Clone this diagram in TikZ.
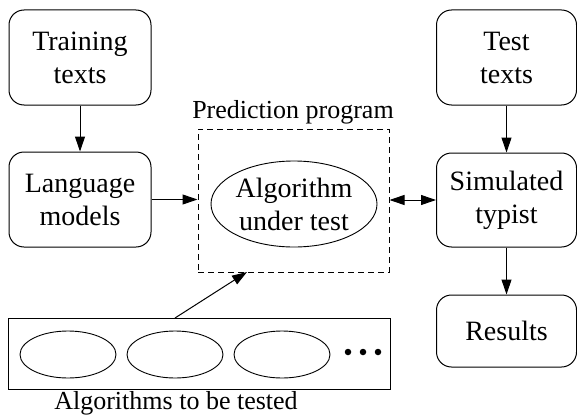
\documentclass[tikz,border=0pt]{standalone}
\usepackage{fontspec}
\setmainfont{Liberation Serif}
\usetikzlibrary{arrows.meta,shapes.geometric}
\begin{document}
\begin{tikzpicture}[x=1pt,y=-1pt,
  every node/.style={font=\fontsize{28}{33}\selectfont, inner sep=0pt},
  lab/.style={font=\fontsize{26}{30}\selectfont, anchor=base},
  rbox/.style={draw, rounded corners=15pt, line width=1pt, align=center},
  oval/.style={draw, ellipse, line width=0.9pt, align=center},
  arr/.style={line width=1pt, -{Triangle[length=15pt,width=10pt]}},
  darr/.style={line width=1pt, {Triangle[length=15pt,width=10pt]}-{Triangle[length=15pt,width=10pt]}}]
\useasboundingbox (0,0) rectangle (577,417);
\node[rbox, minimum width=142pt, minimum height=95pt] (train) at (80,57.5) {Training\\texts};
\node[rbox, minimum width=142pt, minimum height=95pt] (lang) at (80,199.5) {Language\\models};
\node[rbox, minimum width=140pt, minimum height=95pt] (test) at (506.5,57.5) {Test\\texts};
\node[rbox, minimum width=140pt, minimum height=94pt] (sim) at (506.5,200) {Simulated\\typist};
\node[rbox, minimum width=140pt, minimum height=72pt] (res) at (506.5,331) {Results};
\node[draw, dashed, dash pattern=on 6pt off 4pt, line width=1pt, minimum width=191pt, minimum height=143pt] (pred) at (293.5,200.5) {};
\node[lab] (predlab) at (293,118) {Prediction program};
\node[oval, minimum width=166pt, minimum height=86pt] (alg) at (294,204) {Algorithm\\under test};
\node[draw, line width=1pt, minimum width=382pt, minimum height=71pt] (pool) at (199,353.5) {};
\node[draw, ellipse, line width=0.9pt, minimum width=96pt, minimum height=47pt] (e1) at (68,354.5) {};
\node[draw, ellipse, line width=0.9pt, minimum width=96pt, minimum height=47pt] (e2) at (175,354.5) {};
\node[draw, ellipse, line width=0.9pt, minimum width=96pt, minimum height=47pt] (e3) at (282,354.5) {};
\node[circle, fill, minimum size=6.5pt] (d1) at (348,352) {};
\node[circle, fill, minimum size=6.5pt] (d2) at (363,352) {};
\node[circle, fill, minimum size=6.5pt] (d3) at (378,352) {};
\node[lab] (poollab) at (176,409) {Algorithms to be tested};
\coordinate (pooltop) at (175,318);
\coordinate (predbot) at (247,272);
\draw[arr] (train) -- (lang);
\draw[arr] (lang.east) -- (lang.east -| pred.west);
\draw[darr] (pred.east |- sim.west) -- (sim.west);
\draw[arr] (test) -- (sim);
\draw[arr] (sim) -- (res);
\draw[arr] (pooltop) -- (predbot);
\end{tikzpicture}
\end{document}
